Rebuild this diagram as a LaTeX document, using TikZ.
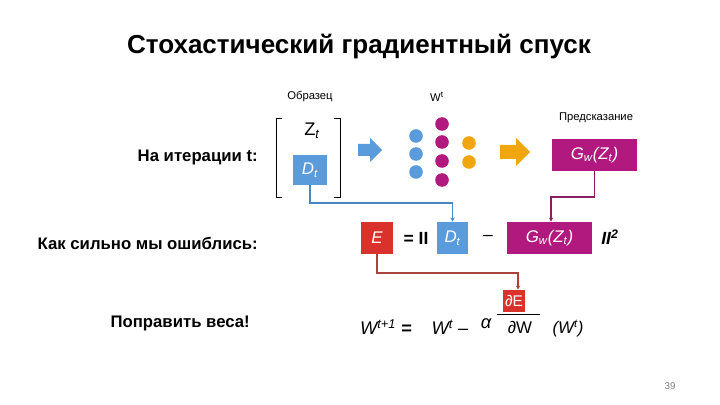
\documentclass[tikz,border=0pt]{standalone}
\usepackage{fontspec}
\setmainfont{Liberation Sans}
\usetikzlibrary{arrows.meta,calc}
\definecolor{cblue}{HTML}{5A9BDC}
\definecolor{cblueline}{HTML}{4A86C0}
\definecolor{cmag}{HTML}{B2197F}
\definecolor{cmagline}{HTML}{8A1F60}
\definecolor{cred}{HTML}{D9322C}
\definecolor{credline}{HTML}{A8423A}
\definecolor{cyel}{HTML}{F0A70F}
\tikzset{
  lbl/.style={font=\fontsize{11.9}{13}\selectfont\bfseries, anchor=east, inner sep=0pt},
  small/.style={font=\fontsize{8}{9}\selectfont, inner sep=0pt},
  box/.style={inner sep=0pt, text=white, font=\fontsize{12}{14}\selectfont\itshape},
  neuron/.style={circle, minimum size=0.34cm, inner sep=0pt},
  conn/.style={line width=1.4pt, -{Stealth[length=3pt,width=3pt]}},
  eq/.style={font=\fontsize{12.5}{14}\selectfont, inner sep=0pt}
}
\begin{document}
\begin{tikzpicture}[x=0.025cm,y=-0.025cm]
\useasboundingbox (0,0) rectangle (720,405);
% title
\node[font=\fontsize{18.5}{21}\selectfont\bfseries, inner sep=0pt] (title) at (359,47) {Стохастический градиентный спуск};
% left labels
\node[lbl] (l1) at (258,157) {На итерации t:};
\node[lbl] (l2) at (258,243) {Как сильно мы ошиблись:};
\node[lbl] (l3) at (250,323) {Поправить веса!};
% small labels
\node[small] (obr) at (310,97) {Образец};
\node[small] (wt) at (437,97) {W\textsuperscript{t}};
\node[small] (pred) at (596,118) {Предсказание};
% bracket
\draw[line width=0.7pt] (282,118) -- (276,118) -- (276,197) -- (282,197);
\draw[line width=0.7pt] (334,118) -- (340,118) -- (340,197) -- (334,197);
\node[font=\fontsize{13}{15}\selectfont, inner sep=0pt] (zt) at (312,131) {Z\textsubscript{\itshape t}};
\node[box, fill=cblue, minimum width=0.85cm, minimum height=0.75cm] (dt1) at (310,170) {D\textsubscript{t}};
% blue arrow
\fill[cblue] (358,144) -- (370,144) -- (370,138) -- (382,150) -- (370,162) -- (370,156) -- (358,156) -- cycle;
% neurons
\foreach \y/\n in {136/1,154/2,172/3} \node[neuron, fill=cblue] (b\n) at (416,\y) {};
\foreach \y/\n in {124/1,142/2,161/3,180/4} \node[neuron, fill=cmag] (m\n) at (442,\y) {};
\foreach \y/\n in {143/1,162/2} \node[neuron, fill=cyel] (y\n) at (469,\y) {};
% yellow arrow
\fill[cyel] (500,145) -- (516,145) -- (516,138) -- (530,152) -- (516,166) -- (516,159) -- (500,159) -- cycle;
% prediction box
\node[box, fill=cmag, minimum width=2.125cm, minimum height=0.8cm] (g1) at (594.5,155) {G\textsubscript{w}(Z\textsubscript{t})};
% error row
\node[box, fill=cred, minimum width=0.8cm, minimum height=0.8cm] (e) at (377,238) {E};
\node[eq, font=\fontsize{12.5}{14}\selectfont\bfseries] (eqs) at (416,238) {= II};
\node[box, fill=cblue, minimum width=0.78cm, minimum height=0.8cm] (dt2) at (452.5,238) {D\textsubscript{t}};
\node[eq] (minus1) at (488,238) {–};
\node[box, fill=cmag, minimum width=2.125cm, minimum height=0.8cm] (g2) at (549.5,238) {G\textsubscript{w}(Z\textsubscript{t})};
\node[eq, font=\fontsize{12.5}{14}\selectfont\bfseries\itshape] (norm) at (610,237) {II\textsuperscript{2}};
% connectors
\coordinate (c1) at (0,203);
\coordinate (c2) at (0,197);
\coordinate (c3) at (0,273);
\coordinate (c2x) at (551,0);
\coordinate (c3x) at (518,0);
\draw[conn, draw=cblueline] (dt1.south) -- (dt1.south |- c1) -| (dt2.north);
\draw[conn, draw=cmagline] (g1.south) -- (g1.south |- c2) -| (g2.north -| c2x);
% update row
\node[box, fill=cred, minimum width=0.55cm, minimum height=0.55cm, font=\fontsize{11}{12}\selectfont] (de) at (514,301) {∂E};
\draw[conn, draw=credline] (e.south) -- (e.south |- c3) -| (de.north -| c3x);
\node[eq, font=\fontsize{13}{15}\selectfont\itshape] (wt1) at (386,327) {W\textsuperscript{t+1} \upshape\bfseries =};
\node[eq, font=\fontsize{13}{15}\selectfont\itshape] (wt2) at (450,327) {W\textsuperscript{t} \upshape –};
\node[eq, font=\fontsize{13}{15}\selectfont\itshape] (alpha) at (486,324) {α};
\coordinate (fl) at (497,314);
\coordinate (fr) at (540,314);
\draw[line width=0.6pt] (fl) -- (fr);
\node[eq, font=\fontsize{12}{14}\selectfont] (dw) at (520,328) {∂W};
\node[eq, font=\fontsize{12}{14}\selectfont\itshape] (wpar) at (568,329) {(W\textsuperscript{t})};
% page number
\node[font=\fontsize{7}{8}\selectfont, text=gray, inner sep=0pt] (pg) at (670,386) {39};
\end{tikzpicture}
\end{document}
